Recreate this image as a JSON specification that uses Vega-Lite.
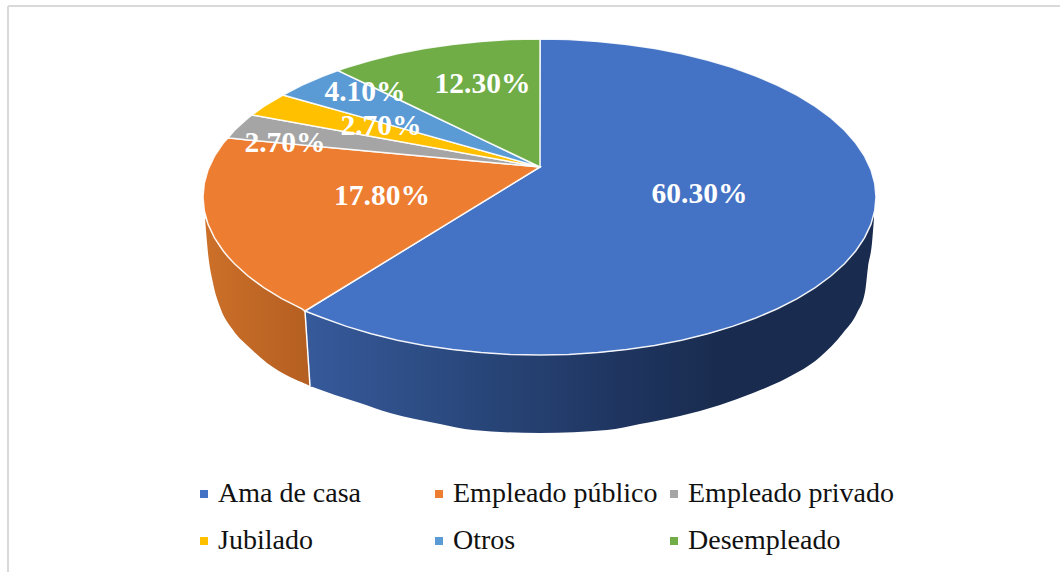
{
"$schema":"https://vega.github.io/schema/vega-lite/v6.json",
"width":1060,"height":572,"padding":0,"autosize":{"type":"none"},"background":"white",
"config":{"view":{"stroke":null},"font":"Liberation Serif"},
"datasets":{
"marco":[{"x":8,"x2":8,"y":6,"y2":572},{"x":8,"x2":1060,"y":6,"y2":6}],
"separador":[{"x":305,"x2":310,"y":311,"y2":386}],
"ladoAzul":[{"x":310,"y":313.5,"y2":386},{"x":335,"y":322.4,"y2":395},{"x":360,"y":330.7,"y2":403},{"x":390,"y":338.6,"y2":413},{"x":440,"y":347.9,"y2":424},{"x":473,"y":351.9,"y2":430},{"x":540,"y":355,"y2":433},{"x":607,"y":352,"y2":430},{"x":640,"y":347.8,"y2":424},{"x":680,"y":340.5,"y2":416},{"x":720,"y":330.4,"y2":405},{"x":753,"y":319,"y2":393},{"x":787,"y":304,"y2":378},{"x":820,"y":284,"y2":357},{"x":843,"y":265,"y2":333},{"x":857,"y":249,"y2":313},{"x":865,"y":237,"y2":292},{"x":868,"y":231,"y2":267},{"x":872,"y":221,"y2":243},{"x":874,"y":214,"y2":218}],
"rampaAzul":[{"x":305,"y":311,"y2":311},{"x":310,"y":313.5,"y2":386},{"x":312,"y":314,"y2":386.7}],
"ladoNaranja":[{"x":205,"y":218,"y2":218},{"x":208,"y":224,"y2":253},{"x":213,"y":235,"y2":283},{"x":220,"y":247,"y2":307},{"x":233,"y":262,"y2":330},{"x":250,"y":278,"y2":348},{"x":267,"y":290,"y2":363},{"x":290,"y":303,"y2":377},{"x":305,"y":311,"y2":383.5}],
"rampaNaranja":[{"x":303,"y":310,"y2":382.7},{"x":305,"y":311,"y2":383.5},{"x":310,"y":386,"y2":386}],
"sectores":[
{"categoria":"Ama de casa","x":305,"y":311,"y2":311},{"categoria":"Ama de casa","x":323.2,"y":299.8,"y2":318},{"categoria":"Ama de casa","x":346.5,"y":285.6,"y2":326.4},{"categoria":"Ama de casa","x":371.2,"y":270.4,"y2":333.8},{"categoria":"Ama de casa","x":397.3,"y":254.4,"y2":340.2},{"categoria":"Ama de casa","x":424.4,"y":237.8,"y2":345.5},{"categoria":"Ama de casa","x":452.4,"y":220.6,"y2":349.6},{"categoria":"Ama de casa","x":481.1,"y":203,"y2":352.6},{"categoria":"Ama de casa","x":510.2,"y":185.2,"y2":354.4},{"categoria":"Ama de casa","x":539.5,"y":167.3,"y2":355},{"categoria":"Ama de casa","x":540,"y":39,"y2":355},{"categoria":"Ama de casa","x":568.8,"y":39.6,"y2":354.4},{"categoria":"Ama de casa","x":597.9,"y":41.4,"y2":352.6},{"categoria":"Ama de casa","x":626.6,"y":44.4,"y2":349.6},{"categoria":"Ama de casa","x":654.6,"y":48.5,"y2":345.5},{"categoria":"Ama de casa","x":681.7,"y":53.8,"y2":340.2},{"categoria":"Ama de casa","x":707.8,"y":60.2,"y2":333.8},{"categoria":"Ama de casa","x":732.5,"y":67.6,"y2":326.4},{"categoria":"Ama de casa","x":755.8,"y":76,"y2":318},{"categoria":"Ama de casa","x":777.4,"y":85.3,"y2":308.7},{"categoria":"Ama de casa","x":797.3,"y":95.4,"y2":298.6},{"categoria":"Ama de casa","x":815.2,"y":106.4,"y2":287.6},{"categoria":"Ama de casa","x":830.9,"y":118,"y2":276},{"categoria":"Ama de casa","x":844.5,"y":130.2,"y2":263.8},{"categoria":"Ama de casa","x":855.7,"y":143,"y2":251},{"categoria":"Ama de casa","x":864.5,"y":156.1,"y2":237.9},{"categoria":"Ama de casa","x":870.9,"y":169.6,"y2":224.4},{"categoria":"Ama de casa","x":874.7,"y":183.2,"y2":210.8},{"categoria":"Ama de casa","x":876,"y":197,"y2":197},
{"categoria":"Empleado público","x":203,"y":197,"y2":197},{"categoria":"Empleado público","x":204.3,"y":183.2,"y2":210.8},{"categoria":"Empleado público","x":208.1,"y":169.6,"y2":224.4},{"categoria":"Empleado público","x":214.5,"y":156.1,"y2":237.9},{"categoria":"Empleado público","x":223.3,"y":143,"y2":251},{"categoria":"Empleado público","x":228,"y":138,"y2":256.7},{"categoria":"Empleado público","x":234.5,"y":138.6,"y2":263.8},{"categoria":"Empleado público","x":248.1,"y":139.9,"y2":276},{"categoria":"Empleado público","x":263.8,"y":141.3,"y2":287.6},{"categoria":"Empleado público","x":281.7,"y":143,"y2":298.6},{"categoria":"Empleado público","x":301.6,"y":144.8,"y2":308.7},{"categoria":"Empleado público","x":305,"y":145.2,"y2":311},{"categoria":"Empleado público","x":540,"y":167,"y2":167},
{"categoria":"Empleado privado","x":228,"y":138,"y2":138},{"categoria":"Empleado privado","x":234.5,"y":130.2,"y2":138.6},{"categoria":"Empleado privado","x":248.1,"y":118,"y2":139.9},{"categoria":"Empleado privado","x":252,"y":115,"y2":140.3},{"categoria":"Empleado privado","x":540,"y":167,"y2":167},
{"categoria":"Jubilado","x":252,"y":115,"y2":115},{"categoria":"Jubilado","x":263.8,"y":106.4,"y2":117.1},{"categoria":"Jubilado","x":283,"y":95,"y2":120.6},{"categoria":"Jubilado","x":540,"y":167,"y2":167},
{"categoria":"Otros","x":283,"y":95,"y2":95},{"categoria":"Otros","x":301.6,"y":85.3,"y2":100.2},{"categoria":"Otros","x":323.2,"y":76,"y2":106.2},{"categoria":"Otros","x":338,"y":70.5,"y2":110.4},{"categoria":"Otros","x":540,"y":167,"y2":167},
{"categoria":"Desempleado","x":338,"y":70.5,"y2":70.5},{"categoria":"Desempleado","x":346.5,"y":67.6,"y2":74.6},{"categoria":"Desempleado","x":371.2,"y":60.2,"y2":86.3},{"categoria":"Desempleado","x":397.3,"y":53.8,"y2":98.8},{"categoria":"Desempleado","x":424.4,"y":48.5,"y2":111.7},{"categoria":"Desempleado","x":452.4,"y":44.4,"y2":125.1},{"categoria":"Desempleado","x":481.1,"y":41.4,"y2":138.9},{"categoria":"Desempleado","x":510.2,"y":39.6,"y2":152.8},{"categoria":"Desempleado","x":540,"y":39,"y2":167}
],
"etiquetas":[
{"categoria":"Ama de casa","valor":0.603,"x":699.5,"y":194},
{"categoria":"Empleado público","valor":0.178,"x":382,"y":196},
{"categoria":"Empleado privado","valor":0.027,"x":285,"y":143},
{"categoria":"Jubilado","valor":0.027,"x":381,"y":126},
{"categoria":"Otros","valor":0.041,"x":365,"y":92},
{"categoria":"Desempleado","valor":0.123,"x":482.5,"y":84}
]},
"layer":[
{"data":{"name":"marco"},"mark":{"type":"rule","color":"#d9d9d9","strokeWidth":2},
 "encoding":{"x":{"field":"x","type":"quantitative","scale":{"domain":[0,1060],"nice":false,"zero":false},"axis":null},"x2":{"field":"x2"},"y":{"field":"y","type":"quantitative","scale":{"domain":[572,0],"nice":false,"zero":false},"axis":null},"y2":{"field":"y2"}}},
{"data":{"name":"ladoNaranja"},"mark":{"type":"area","interpolate":"monotone","fill":{"gradient":"linear","x1":0,"y1":0,"x2":1,"y2":0,"stops":[{"offset":0,"color":"#cc7029"},{"offset":1,"color":"#b55f22"}]}},
 "encoding":{"x":{"field":"x","type":"quantitative"},"y":{"field":"y","type":"quantitative"},"y2":{"field":"y2"}}},
{"data":{"name":"rampaNaranja"},"mark":{"type":"area","fill":"#b55f22"},
 "encoding":{"x":{"field":"x","type":"quantitative"},"y":{"field":"y","type":"quantitative"},"y2":{"field":"y2"}}},
{"data":{"name":"ladoAzul"},"mark":{"type":"area","interpolate":"monotone","fill":{"gradient":"linear","x1":0,"y1":0,"x2":1,"y2":0,"stops":[{"offset":0,"color":"#36599a"},{"offset":0.24,"color":"#2b4a80"},{"offset":0.55,"color":"#1f3560"},{"offset":0.73,"color":"#192c4f"},{"offset":1,"color":"#192c4f"}]}},
 "encoding":{"x":{"field":"x","type":"quantitative"},"y":{"field":"y","type":"quantitative"},"y2":{"field":"y2"}}},
{"data":{"name":"rampaAzul"},"mark":{"type":"area","fill":"#36599a"},
 "encoding":{"x":{"field":"x","type":"quantitative"},"y":{"field":"y","type":"quantitative"},"y2":{"field":"y2"}}},
{"data":{"name":"separador"},"mark":{"type":"rule","color":"white","strokeWidth":1.5},
 "encoding":{"x":{"field":"x","type":"quantitative"},"x2":{"field":"x2"},"y":{"field":"y","type":"quantitative"},"y2":{"field":"y2"}}},
{"data":{"name":"sectores"},"mark":{"type":"area","stroke":"white","strokeWidth":1.5,"strokeOpacity":0.9},
 "encoding":{"x":{"field":"x","type":"quantitative"},"y":{"field":"y","type":"quantitative"},"y2":{"field":"y2"},
  "color":{"field":"categoria","type":"nominal","scale":{"domain":["Ama de casa","Empleado público","Empleado privado","Jubilado","Otros","Desempleado"],"range":["#4472c4","#ed7d31","#a5a5a5","#ffc000","#5b9bd5","#70ad47"]},
   "legend":{"title":null,"orient":"none","legendX":190,"legendY":480,"padding":0,"direction":"horizontal","columns":3,"gridAlign":"all","symbolType":"square","symbolSize":64,"symbolStrokeWidth":0,"labelFont":"Liberation Serif","labelFontSize":28,"labelColor":"#111111","labelOffset":0,"columnPadding":-2,"rowPadding":19,"labelLimit":300}}}},
{"data":{"name":"etiquetas"},"mark":{"type":"text","font":"Liberation Serif","fontWeight":"bold","fontSize":29.5,"color":"white","align":"center","baseline":"middle"},
 "encoding":{"x":{"field":"x","type":"quantitative"},"y":{"field":"y","type":"quantitative"},"text":{"field":"valor","type":"quantitative","format":".2%"}}}
]
}
